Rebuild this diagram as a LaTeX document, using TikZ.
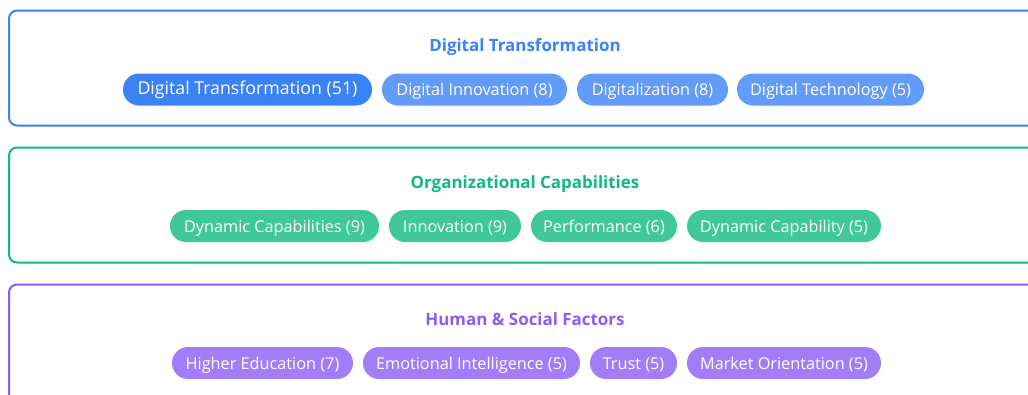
\documentclass[tikz,border=0pt]{standalone}
\usepackage{fontspec}
\setmainfont{Open Sans}
\definecolor{bluemain}{HTML}{3B82F6}
\definecolor{bluesoft}{HTML}{629BF8}
\definecolor{greenmain}{HTML}{10B981}
\definecolor{greensoft}{HTML}{40C79A}
\definecolor{purplemain}{HTML}{8B5CF6}
\definecolor{purplesoft}{HTML}{A27DF8}
\begin{document}
\begin{tikzpicture}[x=0.75pt,y=-0.75pt,
  panel/.style={line width=1.5pt, rounded corners=6pt},
  heading/.style={font=\fontsize{12.7}{15}\selectfont\bfseries, inner sep=0pt, anchor=base},
  pill/.style={rounded corners=12pt, minimum height=24pt, inner sep=0pt,
    text height=9.6pt, text depth=0pt,
    text=white, font=\fontsize{12.2}{14}\selectfont},
  bigpill/.style={pill, text height=8.2pt, font=\fontsize{13.3}{16}\selectfont}]
\useasboundingbox (0,0) rectangle (1028,394);
\clip (0,0) rectangle (1028,394);
\fill[white] (0,0) rectangle (1028,394);

% panels
\draw[panel, bluemain]   (9,10.5) rectangle (1045,125.5);
\draw[panel, greenmain]  (9,147.5) rectangle (1045,262.5);
\draw[panel, purplemain] (9,284.5) rectangle (1045,430);

% panel headings (placed on their baselines)
\node[heading, text=bluemain]   (h1) at (525,51)  {Digital Transformation};
\node[heading, text=greenmain]  (h2) at (525,188) {Organizational Capabilities};
\node[heading, text=purplemain] (h3) at (525,325) {Human \& Social Factors};

% digital transformation keywords
\node[bigpill, fill=bluemain, minimum width={249*0.75pt}] (dt1) at (247.5,89.5) {Digital Transformation (51)};
\node[pill, fill=bluesoft, minimum width={185*0.75pt}] (dt2) at (474.5,89.5) {Digital Innovation (8)};
\node[pill, fill=bluesoft, minimum width={151*0.75pt}] (dt3) at (652.5,89.5) {Digitalization (8)};
\node[pill, fill=bluesoft, minimum width={187*0.75pt}] (dt4) at (830.5,89.5) {Digital Technology (5)};

% organizational capability keywords
\node[pill, fill=greensoft, minimum width={209*0.75pt}] (oc1) at (274.5,226) {Dynamic Capabilities (9)};
\node[pill, fill=greensoft, minimum width={132*0.75pt}] (oc2) at (455,226) {Innovation (9)};
\node[pill, fill=greensoft, minimum width={146*0.75pt}] (oc3) at (604,226) {Performance (6)};
\node[pill, fill=greensoft, minimum width={194*0.75pt}] (oc4) at (784,226) {Dynamic Capability (5)};

% human and social factor keywords
\node[pill, fill=purplesoft, minimum width={181*0.75pt}] (hs1) at (262.5,363) {Higher Education (7)};
\node[pill, fill=purplesoft, minimum width={217*0.75pt}] (hs2) at (471.5,363) {Emotional Intelligence (5)};
\node[pill, fill=purplesoft, minimum width={87*0.75pt}] (hs3) at (633.5,363) {Trust (5)};
\node[pill, fill=purplesoft, minimum width={194*0.75pt}] (hs4) at (784,363) {Market Orientation (5)};
\end{tikzpicture}
\end{document}
